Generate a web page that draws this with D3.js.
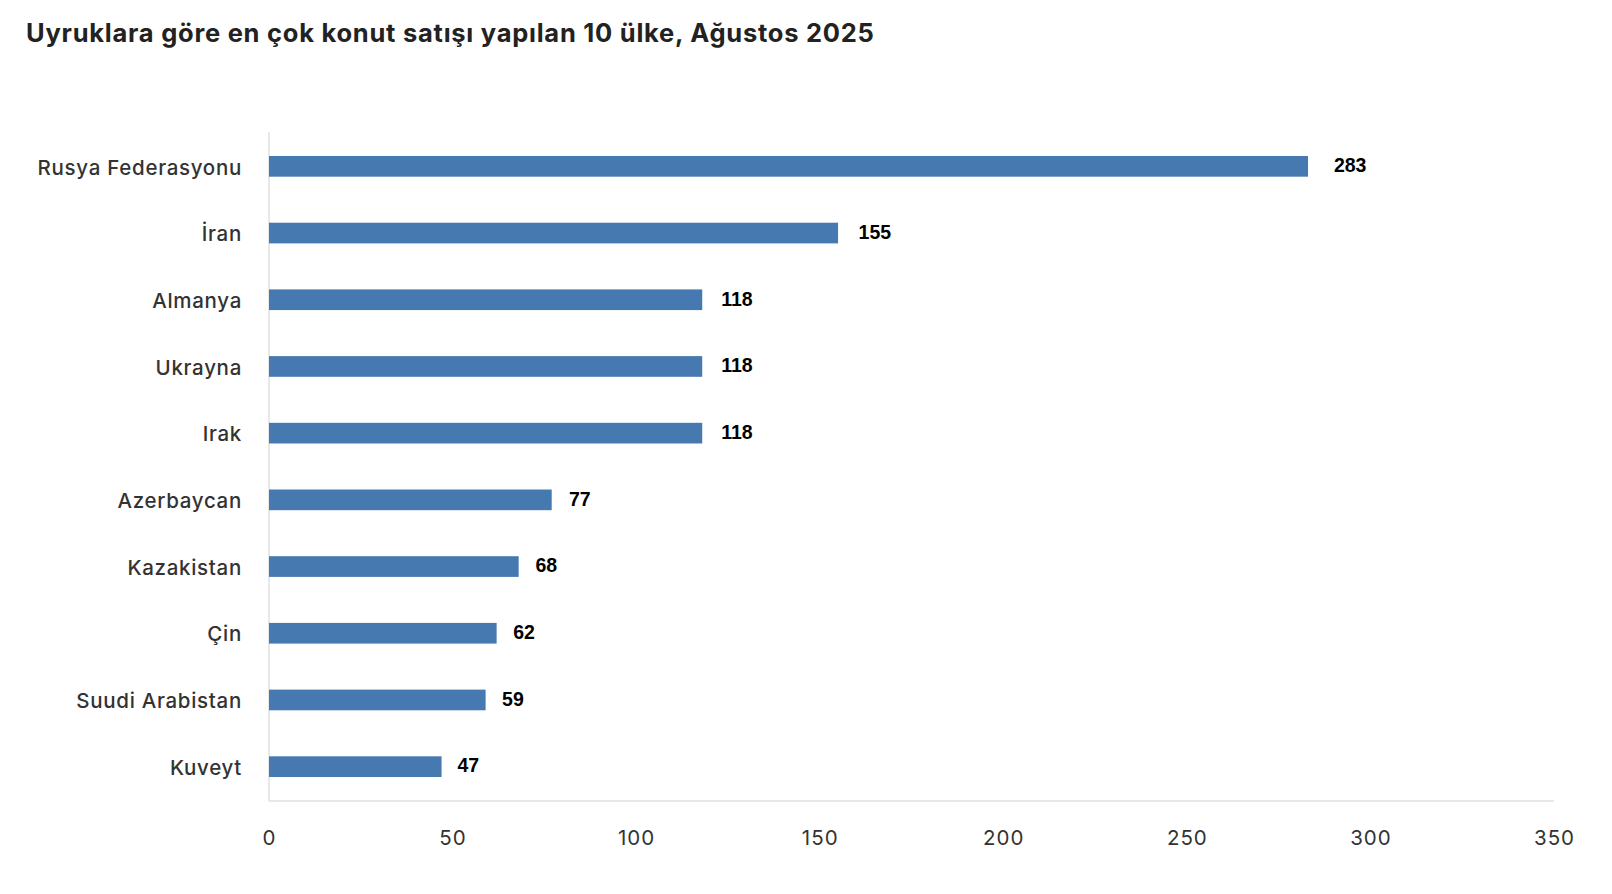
<!DOCTYPE html>
<html>
<head>
<meta charset="utf-8">
<script src="https://cdn.jsdelivr.net/npm/d3@7"></script>
<style>
  html, body { margin: 0; padding: 0; background: #ffffff; }
  svg { display: block; }
</style>
</head>
<body>
<svg id="chart" width="1612" height="894"></svg>
<script>
const titleText = "Uyruklara göre en çok konut satışı yapılan 10 ülke, Ağustos 2025";
const categories = ["Rusya Federasyonu", "İran", "Almanya", "Ukrayna", "Irak", "Azerbaycan", "Kazakistan", "Çin", "Suudi Arabistan", "Kuveyt"];
const values = [283, 155, 118, 118, 118, 77, 68, 62, 59, 47];
const xTicks = [0, 50, 100, 150, 200, 250, 300, 350];

const svg = d3.select("#chart");
const margin = { left: 269, right: 58, top: 132, bottom: 93 };
const W = 1612, H = 894;

const x = d3.scaleLinear().domain([0, 350]).range([margin.left, W - margin.right]);
const y = d3.scaleBand().domain(categories).range([margin.top, H - margin.bottom]).paddingInner(0.69).paddingOuter(0.36);

svg.append("text")
  .attr("x", 26).attr("y", 42)
  .attr("font-family", "Inter, sans-serif")
  .attr("font-weight", 700)
  .attr("font-size", 25.5)
  .attr("letter-spacing", 0.75)
  .attr("fill", "#222222")
  .text(titleText);

// axis lines
svg.append("line")
  .attr("x1", x(0)).attr("x2", x(0))
  .attr("y1", margin.top).attr("y2", H - margin.bottom)
  .attr("stroke", "#e0e0e0").attr("stroke-width", 1.5);
svg.append("line")
  .attr("x1", x(0)).attr("x2", x(350))
  .attr("y1", H - margin.bottom).attr("y2", H - margin.bottom)
  .attr("stroke", "#e0e0e0").attr("stroke-width", 1.5);

// x axis labels
const xAxis = d3.axisBottom(x).tickValues(xTicks).tickSize(0).tickPadding(29);
const gx = svg.append("g").attr("transform", `translate(0,${H - margin.bottom})`).call(xAxis);
gx.select(".domain").remove();
gx.selectAll("text")
  .attr("font-family", "Inter, sans-serif")
  .attr("font-size", 20.5)
  .attr("letter-spacing", 1)
  .attr("fill", "#333333");

// y axis labels
const yAxis = d3.axisLeft(y).tickSize(0).tickPadding(27);
const gy = svg.append("g").attr("transform", `translate(${x(0)},0)`).call(yAxis);
gy.select(".domain").remove();
gy.selectAll("text")
  .attr("font-family", "Inter, sans-serif")
  .attr("font-size", 20.5)
  .attr("font-weight", 500)
  .attr("letter-spacing", 0.7)
  .attr("dy", "0.4em")
  .attr("fill", "#333333");

// bars
svg.append("g").selectAll("rect")
  .data(values)
  .join("rect")
  .attr("x", x(0))
  .attr("y", (d, i) => y(categories[i]))
  .attr("width", d => x(d) - x(0))
  .attr("height", y.bandwidth())
  .attr("fill", "#4679b0");

// value labels
svg.append("g").selectAll("text")
  .data(values)
  .join("text")
  .attr("x", d => x(d) + 14 + d * 0.042)
  .attr("y", (d, i) => y(categories[i]) + y.bandwidth() / 2)
  .attr("dy", "0.3em")
  .attr("font-family", "'Liberation Sans', Arial, sans-serif")
  .attr("font-weight", 700)
  .attr("font-size", 19.5)
  .attr("fill", "#000000")
  .text(d => d);
</script>
</body>
</html>
